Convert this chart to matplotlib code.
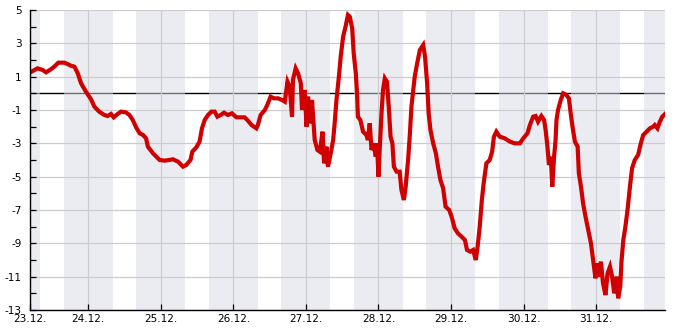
import matplotlib
matplotlib.use("Agg")
import matplotlib.pyplot as plt
import numpy as np

# time in hours since 23.12. 00:00, temperature in °C
hours = [4.8, 7.2, 8.9, 10.0, 11.6, 12.7, 14.1, 16.1, 17.1, 18.2, 19.4, 20.5, 21.6, 23.2,
         24.9, 26.0, 27.6, 29.3, 30.4, 31.5, 32.4, 33.7, 34.8, 36.4, 37.6, 38.7, 39.8, 41.0,
         42.1, 43.1, 43.7, 45.4, 47.6, 49.3, 52.0, 53.7, 55.3, 56.4, 57.8, 58.4, 59.7, 60.8,
         61.6, 62.5, 63.6, 64.7, 65.8, 66.7, 67.8, 68.9, 70.2, 71.5, 73.0, 74.6, 75.7, 76.8,
         78.0, 79.6, 80.1, 81.0, 82.4, 83.2, 84.3, 85.4, 86.8, 88.1, 89.0, 89.9, 90.6, 91.4,
         91.7, 92.6, 93.4, 94.3, 94.7, 95.6, 96.2, 96.7, 97.3, 98.0, 98.9, 99.8, 100.6, 101.5,
         102.0, 102.8, 103.3, 104.2, 105.0, 105.5, 106.1, 106.9, 107.5, 108.3, 109.1, 109.9,
         110.5, 111.3, 111.8, 112.5, 112.9, 113.2, 114.0, 114.9, 116.0, 116.5, 117.1, 117.7,
         118.4, 119.1, 119.5, 120.0, 120.4, 121.0, 121.5, 122.1, 122.8, 123.4, 124.0, 124.6,
         125.1, 126.0, 127.0, 127.6, 128.4, 129.0, 129.8, 130.4, 130.9, 131.4, 132.0, 132.8,
         133.7, 134.8, 135.4, 136.1, 136.6, 137.2, 138.1, 139.0, 139.7, 140.5, 141.4, 142.2,
         143.4, 144.2, 145.2, 146.3, 147.5, 148.6, 149.3, 150.4, 151.3, 152.2, 152.8, 153.5,
         154.2, 154.8, 155.7, 156.8, 157.6, 158.2, 159.0, 160.1, 161.8, 163.5, 165.1, 166.8,
         167.9, 169.3, 170.1, 171.2, 172.0, 172.8, 173.9, 174.8, 175.3, 175.9, 176.4, 177.0,
         177.5, 178.1, 178.6, 178.9, 179.4, 180.3, 181.1, 182.2, 183.0, 183.6, 184.2, 185.0,
         185.9, 186.3, 187.0, 187.7, 188.5, 189.4, 190.3, 191.0, 191.8, 192.4, 192.9, 193.6,
         194.3, 195.1, 195.8, 196.6, 197.3, 198.0, 198.8, 199.3, 200.0, 200.4, 201.0, 201.7,
         202.4, 203.2, 203.9, 204.8, 205.9, 206.8, 207.6, 208.7, 209.8, 210.9, 211.4, 212.3,
         213.1, 213.9, 214.8]
temps = [1.26, 1.50, 1.40, 1.26, 1.44, 1.60, 1.84, 1.84, 1.76, 1.66, 1.60, 1.20, 0.60, 0.10,
         -0.36, -0.80, -1.10, -1.30, -1.36, -1.24, -1.44, -1.24, -1.10, -1.14, -1.30, -1.60, -2.04, -2.40,
         -2.50, -2.70, -3.20, -3.60, -4.00, -4.04, -3.96, -4.10, -4.40, -4.30, -4.00, -3.50, -3.25, -2.90,
         -2.10, -1.60, -1.30, -1.10, -1.10, -1.40, -1.30, -1.16, -1.30, -1.20, -1.44, -1.44, -1.44, -1.64,
         -1.90, -2.10, -1.90, -1.30, -1.00, -0.70, -0.20, -0.30, -0.30, -0.40, -0.50, 0.70, 0.40, -1.40,
         0.80, 1.50, 1.20, 0.60, -1.00, 0.20, -2.00, -0.20, -1.80, -0.40, -2.80, -3.40, -3.50, -2.30,
         -4.20, -3.20, -4.40, -3.60, -2.80, -1.80, -0.40, 1.00, 2.20, 3.40, 4.00, 4.70,
         4.60, 3.90, 2.40, 1.20, 0.00, -1.40, -1.60, -2.30, -2.50, -2.80, -1.80, -3.40,
         -3.00, -3.80, -3.00, -5.00, -3.40, -1.20, 0.20, 0.90, 0.70, -0.80, -2.60, -3.00,
         -4.40, -4.70, -4.70, -5.80, -6.40, -5.60, -4.00, -2.40, -0.80, 0.00, 1.00, 1.80,
         2.60, 2.90, 2.20, 0.60, -1.20, -2.20, -3.00, -3.60, -4.40, -5.20, -5.70, -6.80,
         -7.00, -7.40, -8.10, -8.40, -8.60, -8.80, -9.40, -9.50, -9.40, -10.00, -9.20, -8.00,
         -6.40, -5.40, -4.20, -4.00, -3.50, -2.60, -2.30, -2.60, -2.70, -2.90, -3.00, -3.00,
         -2.70, -2.40, -1.90, -1.40, -1.36, -1.70, -1.36, -1.60, -2.20, -3.20, -4.30, -3.80,
         -5.60, -3.80, -2.80, -1.60, -1.00, -0.40, 0.00, -0.10, -0.30, -1.20, -2.00, -2.90,
         -3.20, -4.80, -5.60, -6.60, -7.40, -8.20, -9.00, -10.00, -11.10, -10.20, -11.00, -10.10,
         -11.40, -12.10, -10.80, -10.40, -11.00, -12.00, -11.00, -12.30, -11.60, -10.10, -8.80, -8.00,
         -7.00, -5.60, -4.50, -4.00, -3.70, -3.00, -2.50, -2.30, -2.10, -2.00, -1.90, -2.10,
         -1.70, -1.40, -1.24]

day_labels = ["24.12.", "25.12.", "26.12.", "27.12.", "28.12.", "29.12.", "30.12.", "31.12."]
start_label = "23.12."
t_start = 4.7
t_end = 214.8
sunrise_hour = 8.0
sunset_hour = 15.8
y_min, y_max = -13, 5

fig = plt.figure(figsize=(6.85, 3.3), dpi=100)
ax = fig.add_axes([30 / 685, 20 / 330, 635 / 685, 300 / 330])

# zero line (below night shading)
ax.axhline(0, color="black", lw=1.0, zorder=0.5)

# night shading
n_days = len(day_labels) + 1
for d in range(-1, n_days):
    s = d * 24 + sunset_hour
    e = (d + 1) * 24 + sunrise_hour
    ax.axvspan(max(s, t_start), min(e, t_end), color="#d9dbe6", alpha=0.5, lw=0, zorder=1)

ax.plot(hours, temps, color="#d00000", lw=3.0, zorder=3, solid_joinstyle="miter")

ax.set_xlim(t_start, t_end)
ax.set_ylim(y_min, y_max)

xt = [t_start] + [24 * (i + 1) for i in range(len(day_labels))]
ax.set_xticks(xt)
ax.set_xticklabels([start_label] + day_labels)
yt = list(range(y_max, y_min - 1, -2))
ax.set_yticks(yt)
ax.set_yticklabels([str(v) for v in yt])
ax.set_yticks(list(range(y_min, y_max + 1)), minor=True)

ax.set_axisbelow(False)
ax.grid(True, which="major", color="#cccccc", lw=0.9, zorder=2)
ax.tick_params(axis="both", which="both", direction="in", length=4, width=0.9,
               labelsize=7.6, colors="black")
ax.tick_params(axis="x", pad=3)
ax.tick_params(axis="y", pad=6)
for sp in ["top", "right"]:
    ax.spines[sp].set_visible(False)
for sp in ["left", "bottom"]:
    ax.spines[sp].set_linewidth(1.0)
    ax.spines[sp].set_zorder(4)

fig.savefig("out.png", dpi=100)
